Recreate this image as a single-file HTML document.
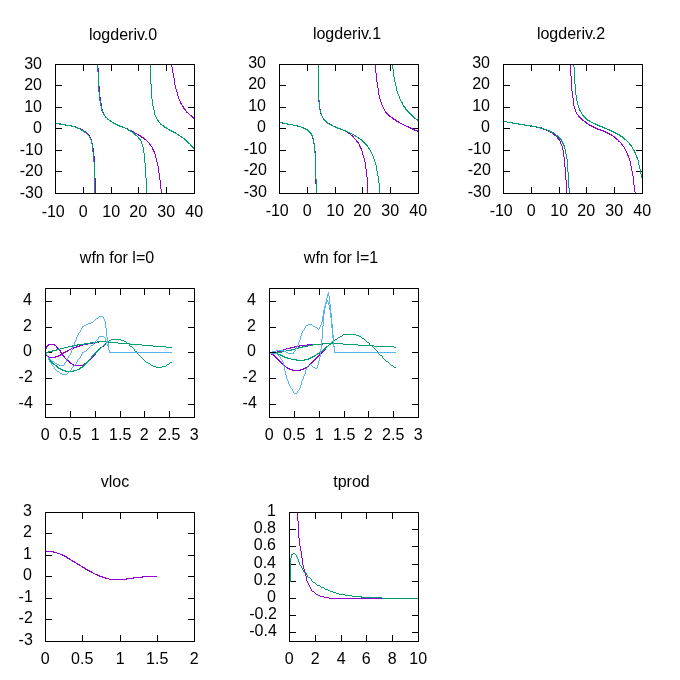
<!DOCTYPE html>
<html><head><meta charset="utf-8"><title>plot</title>
<style>html,body{margin:0;padding:0;background:#fff;overflow:hidden}svg{display:block;will-change:transform}text{font-family:"Liberation Sans",sans-serif;font-size:16px;fill:#000}.f{fill:none;stroke:#000;stroke-width:1;shape-rendering:crispEdges}.c{fill:none;stroke-width:1;shape-rendering:crispEdges;stroke-linejoin:miter}</style></head><body>
<svg width="680" height="680" viewBox="0 0 680 680">
<rect x="0" y="0" width="680" height="680" fill="#fff"/>
<g>
<text x="53.2" y="217.0" text-anchor="middle">-10</text>
<text x="83.2" y="217.0" text-anchor="middle">0</text>
<text x="111.2" y="217.0" text-anchor="middle">10</text>
<text x="138.2" y="217.0" text-anchor="middle">20</text>
<text x="166.2" y="217.0" text-anchor="middle">30</text>
<text x="194.2" y="217.0" text-anchor="middle">40</text>
<text x="42.8" y="197.6" text-anchor="end">-30</text>
<text x="42.8" y="175.6" text-anchor="end">-20</text>
<text x="42.8" y="154.6" text-anchor="end">-10</text>
<text x="42.0" y="132.6" text-anchor="end">0</text>
<text x="42.0" y="111.6" text-anchor="end">10</text>
<text x="42.0" y="89.6" text-anchor="end">20</text>
<text x="42.0" y="68.6" text-anchor="end">30</text>
<path class="f" d="M55.5 194 v-7 M55.5 64 v7 M83.5 194 v-7 M83.5 64 v7 M111.5 194 v-7 M111.5 64 v7 M138.5 194 v-7 M138.5 64 v7 M166.5 194 v-7 M166.5 64 v7 M194.5 194 v-7 M194.5 64 v7 M55 193.5 h7 M195 193.5 h-7 M55 171.5 h7 M195 171.5 h-7 M55 150.5 h7 M195 150.5 h-7 M55 128.5 h7 M195 128.5 h-7 M55 107.5 h7 M195 107.5 h-7 M55 85.5 h7 M195 85.5 h-7 M55 64.5 h7 M195 64.5 h-7"/>
<path class="c" stroke="#9400d3" d="M55.5 123v1M56.5 123v1M57.5 123v1M58.5 123v1M59.5 123v1M60.5 123v2M61.5 124v1M62.5 124v1M63.5 124v1M64.5 124v1M65.5 124v1M66.5 125v1M67.5 125v1M68.5 125v1M69.5 125v1M70.5 125v1M71.5 125v2M72.5 126v1M73.5 126v1M74.5 126v1M75.5 126v2M76.5 127v1M77.5 127v1M78.5 128v1M79.5 128v1M80.5 128v2M81.5 129v1M82.5 129v2M83.5 130v2M84.5 131v1M85.5 131v2M86.5 132v2M87.5 133v2M88.5 134v2M89.5 135v2M90.5 137v2M91.5 139v4M92.5 143v5M93.5 148v8M94.5 156v22M95.5 178v16"/>
<path class="c" stroke="#9400d3" d="M97.5 64v4M98.5 68v18M99.5 86v11M100.5 97v6M101.5 103v6M102.5 109v3M103.5 112v2M104.5 114v2M105.5 116v1M106.5 117v1M107.5 118v2M108.5 119v1M109.5 120v1M110.5 120v2M111.5 121v1M112.5 122v1M113.5 122v2M114.5 123v1M115.5 123v2M116.5 124v1M117.5 124v2M118.5 125v1M119.5 125v1M120.5 126v1M121.5 126v1M122.5 126v2M123.5 127v1M124.5 127v1M125.5 128v1M126.5 128v1M127.5 128v2M128.5 129v1M129.5 130v1M130.5 130v1M131.5 130v2M132.5 131v1M133.5 131v2M134.5 132v1M135.5 133v1M136.5 133v1M137.5 134v1M138.5 134v2M139.5 135v1M140.5 135v2M141.5 136v2M142.5 137v1M143.5 137v2M144.5 138v2M145.5 139v1M146.5 140v1M147.5 141v1M148.5 142v1M149.5 143v2M150.5 144v2M151.5 146v1M152.5 147v3M153.5 149v3M154.5 151v3M155.5 154v4M156.5 158v4M157.5 162v4M158.5 166v7M159.5 173v7M160.5 180v9M161.5 189v5"/>
<path class="c" stroke="#9400d3" d="M171.5 64v3M172.5 67v6M173.5 73v5M174.5 78v7M175.5 85v4M176.5 89v3M177.5 92v4M178.5 96v3M179.5 99v2M180.5 101v3M181.5 103v2M182.5 105v2M183.5 106v3M184.5 108v2M185.5 109v2M186.5 111v2M187.5 112v1M188.5 113v1M189.5 114v1M190.5 115v1M191.5 115v2M192.5 116v2M193.5 117v2M194.5 118v1"/>
<path class="c" stroke="#009e73" d="M55.5 123v1M56.5 123v1M57.5 123v1M58.5 123v1M59.5 123v2M60.5 124v1M61.5 124v1M62.5 124v1M63.5 124v1M64.5 124v1M65.5 124v2M66.5 125v1M67.5 125v1M68.5 125v1M69.5 125v1M70.5 125v1M71.5 125v2M72.5 126v1M73.5 126v1M74.5 126v1M75.5 127v1M76.5 127v1M77.5 127v2M78.5 128v1M79.5 128v1M80.5 129v1M81.5 129v2M82.5 130v1M83.5 130v2M84.5 131v2M85.5 132v1M86.5 133v1M87.5 134v1M88.5 135v1M89.5 136v2M90.5 138v2M91.5 140v4M92.5 144v8M93.5 152v10M94.5 162v32"/>
<path class="c" stroke="#009e73" d="M97.5 64v8M98.5 72v20M99.5 92v9M100.5 101v5M101.5 106v5M102.5 110v3M103.5 113v2M104.5 114v2M105.5 116v2M106.5 117v1M107.5 118v2M108.5 119v1M109.5 120v1M110.5 120v2M111.5 121v1M112.5 122v1M113.5 122v2M114.5 123v1M115.5 123v2M116.5 124v1M117.5 124v2M118.5 125v1M119.5 125v2M120.5 126v1M121.5 126v1M122.5 126v2M123.5 127v1M124.5 127v1M125.5 128v1M126.5 128v1M127.5 129v1M128.5 129v2M129.5 130v1M130.5 130v2M131.5 131v1M132.5 132v1M133.5 132v2M134.5 133v2M135.5 134v2M136.5 135v1M137.5 136v1M138.5 137v2M139.5 138v2M140.5 139v2M141.5 141v3M142.5 144v3M143.5 147v6M144.5 153v10M145.5 163v15M146.5 178v16"/>
<path class="c" stroke="#009e73" d="M150.5 64v20M151.5 84v15M152.5 99v7M153.5 106v4M154.5 110v5M155.5 115v2M156.5 117v2M157.5 119v2M158.5 120v2M159.5 122v1M160.5 123v2M161.5 124v1M162.5 125v1M163.5 125v2M164.5 126v2M165.5 127v1M166.5 127v2M167.5 128v1M168.5 129v1M169.5 129v2M170.5 130v1M171.5 130v2M172.5 131v1M173.5 131v2M174.5 132v1M175.5 132v2M176.5 133v1M177.5 134v1M178.5 134v2M179.5 135v1M180.5 136v1M181.5 136v2M182.5 137v1M183.5 138v1M184.5 138v2M185.5 139v2M186.5 140v2M187.5 141v2M188.5 142v2M189.5 143v1M190.5 144v2M191.5 145v2M192.5 146v2M193.5 147v2M194.5 149v1"/>
<rect class="f" x="55.5" y="64.5" width="139" height="129"/>
<text x="123.0" y="40.2" text-anchor="middle">logderiv.0</text>
</g>
<g>
<text x="277.2" y="216.0" text-anchor="middle">-10</text>
<text x="307.2" y="216.0" text-anchor="middle">0</text>
<text x="335.2" y="216.0" text-anchor="middle">10</text>
<text x="362.2" y="216.0" text-anchor="middle">20</text>
<text x="390.2" y="216.0" text-anchor="middle">30</text>
<text x="418.2" y="216.0" text-anchor="middle">40</text>
<text x="266.8" y="196.6" text-anchor="end">-30</text>
<text x="266.8" y="174.6" text-anchor="end">-20</text>
<text x="266.8" y="153.6" text-anchor="end">-10</text>
<text x="266.0" y="131.6" text-anchor="end">0</text>
<text x="266.0" y="110.6" text-anchor="end">10</text>
<text x="266.0" y="88.6" text-anchor="end">20</text>
<text x="266.0" y="67.6" text-anchor="end">30</text>
<path class="f" d="M279.5 194 v-7 M279.5 64 v7 M307.5 194 v-7 M307.5 64 v7 M335.5 194 v-7 M335.5 64 v7 M362.5 194 v-7 M362.5 64 v7 M390.5 194 v-7 M390.5 64 v7 M418.5 194 v-7 M418.5 64 v7 M279 193.5 h7 M419 193.5 h-7 M279 171.5 h7 M419 171.5 h-7 M279 150.5 h7 M419 150.5 h-7 M279 128.5 h7 M419 128.5 h-7 M279 107.5 h7 M419 107.5 h-7 M279 85.5 h7 M419 85.5 h-7 M279 64.5 h7 M419 64.5 h-7"/>
<path class="c" stroke="#9400d3" d="M279.5 122v1M280.5 122v1M281.5 122v1M282.5 122v2M283.5 123v1M284.5 123v1M285.5 123v1M286.5 123v1M287.5 123v2M288.5 124v1M289.5 124v1M290.5 124v1M291.5 124v1M292.5 124v1M293.5 125v1M294.5 125v1M295.5 125v1M296.5 125v1M297.5 125v2M298.5 126v1M299.5 126v1M300.5 126v1M301.5 127v1M302.5 127v1M303.5 127v2M304.5 128v1M305.5 128v2M306.5 129v1M307.5 129v2M308.5 130v2M309.5 131v2M310.5 132v2M311.5 133v2M312.5 135v4M313.5 139v5M314.5 144v7M315.5 151v33M316.5 184v10"/>
<path class="c" stroke="#9400d3" d="M318.5 64v38M319.5 102v7M320.5 109v5M321.5 114v2M322.5 116v2M323.5 118v2M324.5 119v2M325.5 120v2M326.5 121v2M327.5 122v2M328.5 123v1M329.5 123v2M330.5 124v1M331.5 125v1M332.5 125v1M333.5 126v1M334.5 126v1M335.5 126v2M336.5 127v1M337.5 127v2M338.5 128v1M339.5 128v1M340.5 128v2M341.5 129v1M342.5 129v1M343.5 130v1M344.5 130v1M345.5 131v1M346.5 131v1M347.5 131v2M348.5 132v2M349.5 133v1M350.5 134v1M351.5 135v1M352.5 135v2M353.5 136v2M354.5 138v1M355.5 139v1M356.5 140v2M357.5 141v2M358.5 142v2M359.5 144v3M360.5 146v3M361.5 148v3M362.5 151v4M363.5 155v3M364.5 158v4M365.5 162v7M366.5 169v8M367.5 177v17"/>
<path class="c" stroke="#9400d3" d="M375.5 64v9M376.5 73v9M377.5 82v6M378.5 88v7M379.5 95v4M380.5 99v3M381.5 102v3M382.5 105v2M383.5 107v2M384.5 109v2M385.5 111v2M386.5 112v2M387.5 113v2M388.5 114v2M389.5 115v2M390.5 116v1M391.5 117v1M392.5 117v2M393.5 118v2M394.5 119v1M395.5 119v2M396.5 120v2M397.5 121v1M398.5 121v2M399.5 122v1M400.5 123v1M401.5 123v1M402.5 124v1M403.5 124v1M404.5 125v1M405.5 125v1M406.5 126v1M407.5 126v1M408.5 126v2M409.5 127v1M410.5 127v2M411.5 128v1M412.5 128v2M413.5 129v1M414.5 129v2M415.5 130v1M416.5 130v1M417.5 130v2M418.5 131v1"/>
<path class="c" stroke="#009e73" d="M279.5 122v1M280.5 122v1M281.5 122v1M282.5 122v1M283.5 123v1M284.5 123v1M285.5 123v1M286.5 123v1M287.5 123v2M288.5 124v1M289.5 124v1M290.5 124v1M291.5 124v1M292.5 124v1M293.5 125v1M294.5 125v1M295.5 125v1M296.5 125v1M297.5 125v2M298.5 126v1M299.5 126v1M300.5 126v1M301.5 127v1M302.5 127v1M303.5 127v2M304.5 128v1M305.5 128v2M306.5 129v1M307.5 129v2M308.5 130v2M309.5 131v2M310.5 132v2M311.5 133v3M312.5 135v3M313.5 138v5M314.5 143v10M315.5 153v26M316.5 179v15"/>
<path class="c" stroke="#009e73" d="M318.5 64v36M319.5 100v10M320.5 110v3M321.5 113v3M322.5 116v2M323.5 118v2M324.5 119v2M325.5 120v2M326.5 121v2M327.5 122v2M328.5 123v1M329.5 124v1M330.5 124v1M331.5 124v2M332.5 125v1M333.5 126v1M334.5 126v1M335.5 126v2M336.5 127v1M337.5 127v2M338.5 128v1M339.5 128v1M340.5 128v2M341.5 129v1M342.5 129v1M343.5 130v1M344.5 130v1M345.5 130v2M346.5 131v1M347.5 131v1M348.5 132v1M349.5 132v1M350.5 133v1M351.5 133v1M352.5 134v1M353.5 134v1M354.5 135v1M355.5 135v2M356.5 136v1M357.5 137v1M358.5 137v2M359.5 138v1M360.5 139v1M361.5 139v2M362.5 140v2M363.5 141v2M364.5 142v2M365.5 143v2M366.5 144v2M367.5 145v2M368.5 147v2M369.5 148v2M370.5 150v2M371.5 152v2M372.5 154v2M373.5 156v3M374.5 159v3M375.5 162v3M376.5 165v6M377.5 171v5M378.5 176v7M379.5 183v11"/>
<path class="c" stroke="#009e73" d="M392.5 64v5M393.5 69v8M394.5 77v5M395.5 82v4M396.5 86v5M397.5 91v3M398.5 94v2M399.5 96v3M400.5 99v2M401.5 101v2M402.5 102v3M403.5 105v2M404.5 106v2M405.5 107v3M406.5 109v2M407.5 110v2M408.5 111v2M409.5 112v2M410.5 113v2M411.5 114v2M412.5 115v2M413.5 116v2M414.5 117v2M415.5 118v1M416.5 119v1M417.5 119v2M418.5 120v2"/>
<rect class="f" x="279.5" y="64.5" width="139" height="129"/>
<text x="347.0" y="39.2" text-anchor="middle">logderiv.1</text>
</g>
<g>
<text x="501.2" y="216.0" text-anchor="middle">-10</text>
<text x="531.2" y="216.0" text-anchor="middle">0</text>
<text x="559.2" y="216.0" text-anchor="middle">10</text>
<text x="586.2" y="216.0" text-anchor="middle">20</text>
<text x="614.2" y="216.0" text-anchor="middle">30</text>
<text x="642.2" y="216.0" text-anchor="middle">40</text>
<text x="490.8" y="196.6" text-anchor="end">-30</text>
<text x="490.8" y="174.6" text-anchor="end">-20</text>
<text x="490.8" y="153.6" text-anchor="end">-10</text>
<text x="490.0" y="131.6" text-anchor="end">0</text>
<text x="490.0" y="110.6" text-anchor="end">10</text>
<text x="490.0" y="88.6" text-anchor="end">20</text>
<text x="490.0" y="67.6" text-anchor="end">30</text>
<path class="f" d="M503.5 194 v-7 M503.5 64 v7 M531.5 194 v-7 M531.5 64 v7 M559.5 194 v-7 M559.5 64 v7 M586.5 194 v-7 M586.5 64 v7 M614.5 194 v-7 M614.5 64 v7 M642.5 194 v-7 M642.5 64 v7 M503 193.5 h7 M643 193.5 h-7 M503 171.5 h7 M643 171.5 h-7 M503 150.5 h7 M643 150.5 h-7 M503 128.5 h7 M643 128.5 h-7 M503 107.5 h7 M643 107.5 h-7 M503 85.5 h7 M643 85.5 h-7 M503 64.5 h7 M643 64.5 h-7"/>
<path class="c" stroke="#9400d3" d="M503.5 121v1M504.5 121v1M505.5 121v1M506.5 121v1M507.5 122v1M508.5 122v1M509.5 122v1M510.5 122v1M511.5 122v1M512.5 122v2M513.5 123v1M514.5 123v1M515.5 123v1M516.5 123v1M517.5 123v1M518.5 123v2M519.5 124v1M520.5 124v1M521.5 124v1M522.5 124v1M523.5 124v1M524.5 124v2M525.5 125v1M526.5 125v1M527.5 125v1M528.5 125v1M529.5 125v1M530.5 125v2M531.5 126v1M532.5 126v1M533.5 126v1M534.5 126v1M535.5 126v1M536.5 126v2M537.5 127v1M538.5 127v1M539.5 127v1M540.5 127v1M541.5 127v2M542.5 128v1M543.5 128v2M544.5 129v1M545.5 129v1M546.5 130v1M547.5 130v1M548.5 130v2M549.5 131v1M550.5 131v2M551.5 132v1M552.5 133v1M553.5 133v2M554.5 134v2M555.5 135v1M556.5 136v1M557.5 137v2M558.5 138v2M559.5 139v2M560.5 141v3M561.5 144v2M562.5 146v4M563.5 150v7M564.5 157v10M565.5 167v13M566.5 180v14"/>
<path class="c" stroke="#9400d3" d="M570.5 64v12M571.5 76v15M572.5 91v7M573.5 98v8M574.5 106v3M575.5 109v3M576.5 112v2M577.5 114v1M578.5 115v2M579.5 116v2M580.5 117v2M581.5 118v2M582.5 119v2M583.5 120v1M584.5 121v1M585.5 121v2M586.5 122v2M587.5 123v1M588.5 124v1M589.5 124v2M590.5 125v1M591.5 125v2M592.5 126v1M593.5 126v2M594.5 127v1M595.5 127v2M596.5 128v1M597.5 128v2M598.5 129v1M599.5 129v1M600.5 129v2M601.5 130v1M602.5 130v1M603.5 130v2M604.5 131v1M605.5 131v2M606.5 132v1M607.5 132v2M608.5 133v1M609.5 133v2M610.5 134v1M611.5 134v2M612.5 135v1M613.5 136v1M614.5 136v2M615.5 137v2M616.5 138v2M617.5 139v1M618.5 140v2M619.5 141v1M620.5 142v1M621.5 143v2M622.5 144v2M623.5 146v1M624.5 147v2M625.5 149v2M626.5 151v2M627.5 153v3M628.5 155v3M629.5 158v3M630.5 161v5M631.5 166v5M632.5 171v5M633.5 176v9M634.5 185v7M635.5 192v2"/>
<path class="c" stroke="#009e73" d="M503.5 121v1M504.5 121v1M505.5 121v1M506.5 121v1M507.5 122v1M508.5 122v1M509.5 122v1M510.5 122v1M511.5 122v1M512.5 122v2M513.5 123v1M514.5 123v1M515.5 123v1M516.5 123v1M517.5 123v1M518.5 123v2M519.5 124v1M520.5 124v1M521.5 124v1M522.5 124v1M523.5 124v1M524.5 124v2M525.5 125v1M526.5 125v1M527.5 125v1M528.5 125v1M529.5 125v1M530.5 125v1M531.5 125v2M532.5 126v1M533.5 126v1M534.5 126v1M535.5 126v1M536.5 126v1M537.5 127v1M538.5 127v1M539.5 127v1M540.5 127v2M541.5 128v1M542.5 128v1M543.5 128v1M544.5 129v1M545.5 129v1M546.5 129v1M547.5 130v1M548.5 130v1M549.5 130v2M550.5 131v1M551.5 131v2M552.5 132v1M553.5 132v2M554.5 133v1M555.5 134v1M556.5 135v1M557.5 135v2M558.5 136v2M559.5 137v2M560.5 138v2M561.5 139v3M562.5 141v3M563.5 143v3M564.5 145v4M565.5 149v5M566.5 154v5M567.5 159v13M568.5 172v16M569.5 188v6"/>
<path class="c" stroke="#009e73" d="M573.5 64v3M574.5 67v17M575.5 84v11M576.5 95v6M577.5 101v4M578.5 105v3M579.5 108v3M580.5 110v2M581.5 112v2M582.5 114v2M583.5 115v2M584.5 116v2M585.5 117v2M586.5 118v2M587.5 119v2M588.5 120v1M589.5 120v2M590.5 121v1M591.5 122v1M592.5 122v1M593.5 123v1M594.5 123v1M595.5 123v2M596.5 124v1M597.5 124v2M598.5 125v1M599.5 125v2M600.5 126v1M601.5 126v1M602.5 126v2M603.5 127v1M604.5 127v2M605.5 128v1M606.5 128v1M607.5 129v1M608.5 129v1M609.5 129v2M610.5 130v1M611.5 130v2M612.5 131v1M613.5 131v2M614.5 132v1M615.5 132v2M616.5 133v1M617.5 133v2M618.5 134v1M619.5 134v2M620.5 135v2M621.5 136v1M622.5 136v2M623.5 137v2M624.5 138v2M625.5 139v1M626.5 140v1M627.5 141v1M628.5 142v1M629.5 143v2M630.5 144v2M631.5 145v2M632.5 147v2M633.5 149v2M634.5 150v3M635.5 152v3M636.5 155v3M637.5 157v3M638.5 160v5M639.5 165v4M640.5 169v5M641.5 174v4"/>
<rect class="f" x="503.5" y="64.5" width="139" height="129"/>
<text x="571.0" y="39.2" text-anchor="middle">logderiv.2</text>
</g>
<g>
<text x="45.2" y="440.0" text-anchor="middle">0</text>
<text x="70.2" y="440.0" text-anchor="middle">0.5</text>
<text x="95.2" y="440.0" text-anchor="middle">1</text>
<text x="120.2" y="440.0" text-anchor="middle">1.5</text>
<text x="144.2" y="440.0" text-anchor="middle">2</text>
<text x="169.2" y="440.0" text-anchor="middle">2.5</text>
<text x="194.2" y="440.0" text-anchor="middle">3</text>
<text x="32.8" y="407.6" text-anchor="end">-4</text>
<text x="32.8" y="381.6" text-anchor="end">-2</text>
<text x="32.0" y="355.6" text-anchor="end">0</text>
<text x="32.0" y="330.6" text-anchor="end">2</text>
<text x="32.0" y="304.6" text-anchor="end">4</text>
<path class="f" d="M45.5 418 v-7 M45.5 288 v7 M70.5 418 v-7 M70.5 288 v7 M95.5 418 v-7 M95.5 288 v7 M120.5 418 v-7 M120.5 288 v7 M144.5 418 v-7 M144.5 288 v7 M169.5 418 v-7 M169.5 288 v7 M194.5 418 v-7 M194.5 288 v7 M45 404.5 h7 M195 404.5 h-7 M45 378.5 h7 M195 378.5 h-7 M45 352.5 h7 M195 352.5 h-7 M45 327.5 h7 M195 327.5 h-7 M45 301.5 h7 M195 301.5 h-7"/>
<path class="c" stroke="#9400d3" d="M106 342.5h1M105 343.5h2M48 344.5h7M104 344.5h2M47 345.5h2M54 345.5h2M103 345.5h2M46 346.5h2M56 346.5h1M102 346.5h2M46 347.5h1M56 347.5h2M100 347.5h2M46 348.5h1M57 348.5h2M99 348.5h2M45 349.5h1M58 349.5h2M98 349.5h2M45 350.5h1M59 350.5h2M97 350.5h2M45 351.5h1M60 351.5h1M96 351.5h2M60 352.5h2M95 352.5h2M61 353.5h1M95 353.5h1M62 354.5h1M94 354.5h2M62 355.5h2M93 355.5h2M63 356.5h2M92 356.5h2M64 357.5h1M91 357.5h2M65 358.5h1M90 358.5h2M66 359.5h1M89 359.5h2M67 360.5h2M88 360.5h2M68 361.5h2M87 361.5h2M69 362.5h2M86 362.5h2M70 363.5h2M84 363.5h3M72 364.5h2M83 364.5h2M73 365.5h11"/>
<path class="c" stroke="#9400d3" d="M98 341.5h9M94 342.5h5M87 343.5h8M83 344.5h5M79 345.5h4M76 346.5h4M73 347.5h4M71 348.5h3M69 349.5h2M67 350.5h2M65 351.5h3M45 352.5h1M63 352.5h3M45 353.5h2M62 353.5h2M46 354.5h1M60 354.5h3M46 355.5h2M58 355.5h3M47 356.5h2M55 356.5h4M48 357.5h8"/>
<path class="c" stroke="#009e73" d="M97 341.5h12M90 342.5h8M108 342.5h10M84 343.5h7M118 343.5h12M77 344.5h8M130 344.5h12M72 345.5h6M142 345.5h11M68 346.5h5M153 346.5h13M64 347.5h4M166 347.5h6M60 348.5h4M56 349.5h4M52 350.5h5M48 351.5h5M45 352.5h4"/>
<path class="c" stroke="#009e73" d="M111 339.5h10M109 340.5h2M121 340.5h3M107 341.5h2M124 341.5h2M106 342.5h2M126 342.5h1M105 343.5h2M127 343.5h2M104 344.5h2M129 344.5h1M103 345.5h2M129 345.5h1M102 346.5h1M130 346.5h2M100 347.5h2M132 347.5h1M99 348.5h2M133 348.5h1M98 349.5h2M134 349.5h1M97 350.5h2M134 350.5h1M96 351.5h2M135 351.5h2M45 352.5h1M95 352.5h2M137 352.5h1M45 353.5h2M94 353.5h2M137 353.5h1M46 354.5h1M93 354.5h2M138 354.5h1M47 355.5h1M92 355.5h2M139 355.5h1M47 356.5h1M91 356.5h2M140 356.5h1M48 357.5h1M91 357.5h1M141 357.5h1M48 358.5h2M90 358.5h1M142 358.5h1M49 359.5h1M89 359.5h1M143 359.5h1M50 360.5h1M88 360.5h2M144 360.5h1M50 361.5h2M87 361.5h2M145 361.5h1M51 362.5h2M86 362.5h2M146 362.5h2M170 362.5h2M52 363.5h2M85 363.5h2M148 363.5h2M169 363.5h1M53 364.5h2M84 364.5h2M150 364.5h1M167 364.5h2M55 365.5h2M83 365.5h2M151 365.5h2M166 365.5h1M56 366.5h2M82 366.5h2M153 366.5h3M162 366.5h4M57 367.5h2M80 367.5h3M156 367.5h6M58 368.5h3M79 368.5h2M60 369.5h3M77 369.5h3M62 370.5h4M73 370.5h4M65 371.5h9"/>
<path class="c" stroke="#56b4e9" d="M99 316.5h4M98 317.5h1M103 317.5h1M96 318.5h2M103 318.5h1M95 319.5h1M104 319.5h1M94 320.5h1M104 320.5h1M93 321.5h1M105 321.5h1M91 322.5h2M105 322.5h1M88 323.5h3M105 323.5h1M86 324.5h2M105 324.5h1M84 325.5h2M105 325.5h1M82 326.5h2M105 326.5h1M82 327.5h1M105 327.5h1M81 328.5h1M106 328.5h1M81 329.5h1M106 329.5h1M80 330.5h1M106 330.5h1M80 331.5h1M106 331.5h1M79 332.5h1M106 332.5h1M78 333.5h1M106 333.5h1M78 334.5h1M106 334.5h1M77 335.5h1M106 335.5h1M77 336.5h1M106 336.5h1M76 337.5h1M107 337.5h1M76 338.5h1M107 338.5h1M76 339.5h1M107 339.5h1M75 340.5h1M107 340.5h1M75 341.5h1M107 341.5h1M74 342.5h1M107 342.5h1M74 343.5h1M108 343.5h1M74 344.5h1M108 344.5h1M73 345.5h1M108 345.5h1M73 346.5h1M108 346.5h1M72 347.5h1M108 347.5h1M72 348.5h1M108 348.5h1M72 349.5h1M108 349.5h1M71 350.5h1M109 350.5h1M71 351.5h1M109 351.5h1M45 352.5h1M71 352.5h1M109 352.5h63M46 353.5h1M70 353.5h1M46 354.5h1M70 354.5h1M47 355.5h1M69 355.5h1M47 356.5h1M68 356.5h1M48 357.5h1M68 357.5h1M49 358.5h1M67 358.5h1M50 359.5h1M67 359.5h1M51 360.5h1M66 360.5h1M52 361.5h2M66 361.5h1M54 362.5h1M65 362.5h1M55 363.5h2M64 363.5h1M57 364.5h2M64 364.5h1M59 365.5h5"/>
<path class="c" stroke="#56b4e9" d="M45.5 352v1M46.5 353v2M47.5 355v2M48.5 357v3M49.5 360v2M50.5 362v1M51.5 363v2M52.5 365v1M53.5 366v1M54.5 367v2M55.5 369v1M56.5 370v1M57.5 371v1M58.5 371v1M59.5 372v1M60.5 373v1M61.5 373v1M62.5 374v1M63.5 374v1M64.5 374v1M65.5 374v1M66.5 374v1M67.5 373v1M68.5 372v1M69.5 371v1M70.5 370v1M71.5 368v2M72.5 367v1M73.5 366v1M74.5 365v1M75.5 364v1M76.5 362v2M77.5 360v2M78.5 359v1M79.5 358v1M80.5 356v2M81.5 354v2M82.5 352v2M83.5 352v1M84.5 351v1M85.5 351v1M86.5 350v1M87.5 349v1M88.5 348v1M89.5 347v1M90.5 346v1M91.5 345v1M92.5 345v1M93.5 343v2M94.5 342v1M95.5 341v1M96.5 340v1M97.5 339v1M98.5 337v2M99.5 336v1M100.5 336v1M101.5 336v1M102.5 336v1M103.5 336v1M104.5 337v1M105.5 338v3M106.5 341v3M107.5 344v2M108.5 346v4M109.5 350v3"/>
<rect class="f" x="45.5" y="288.5" width="149" height="129"/>
<text x="117.0" y="263.2" text-anchor="middle">wfn for l=0</text>
</g>
<g>
<text x="269.2" y="440.0" text-anchor="middle">0</text>
<text x="294.2" y="440.0" text-anchor="middle">0.5</text>
<text x="319.2" y="440.0" text-anchor="middle">1</text>
<text x="344.2" y="440.0" text-anchor="middle">1.5</text>
<text x="368.2" y="440.0" text-anchor="middle">2</text>
<text x="393.2" y="440.0" text-anchor="middle">2.5</text>
<text x="418.2" y="440.0" text-anchor="middle">3</text>
<text x="256.8" y="407.6" text-anchor="end">-4</text>
<text x="256.8" y="381.6" text-anchor="end">-2</text>
<text x="256.0" y="355.6" text-anchor="end">0</text>
<text x="256.0" y="330.6" text-anchor="end">2</text>
<text x="256.0" y="304.6" text-anchor="end">4</text>
<path class="f" d="M269.5 418 v-7 M269.5 288 v7 M294.5 418 v-7 M294.5 288 v7 M319.5 418 v-7 M319.5 288 v7 M344.5 418 v-7 M344.5 288 v7 M368.5 418 v-7 M368.5 288 v7 M393.5 418 v-7 M393.5 288 v7 M418.5 418 v-7 M418.5 288 v7 M269 404.5 h7 M419 404.5 h-7 M269 378.5 h7 M419 378.5 h-7 M269 352.5 h7 M419 352.5 h-7 M269 327.5 h7 M419 327.5 h-7 M269 301.5 h7 M419 301.5 h-7"/>
<path class="c" stroke="#9400d3" d="M322 343.5h9M307 344.5h16M299 345.5h8M294 346.5h6M290 347.5h5M286 348.5h5M283 349.5h3M280 350.5h3M277 351.5h4M273 352.5h5M269 353.5h5"/>
<path class="c" stroke="#9400d3" d="M333 340.5h1M332 341.5h2M331 342.5h2M330 343.5h2M329 344.5h2M328 345.5h1M327 346.5h1M326 347.5h1M325 348.5h1M324 349.5h2M323 350.5h2M322 351.5h2M321 352.5h2M269 353.5h3M320 353.5h2M271 354.5h3M319 354.5h2M273 355.5h2M318 355.5h2M274 356.5h2M317 356.5h2M275 357.5h2M316 357.5h2M276 358.5h2M315 358.5h2M277 359.5h2M314 359.5h2M278 360.5h2M313 360.5h2M279 361.5h2M312 361.5h2M280 362.5h2M311 362.5h2M281 363.5h2M310 363.5h2M282 364.5h2M309 364.5h2M283 365.5h2M308 365.5h2M284 366.5h2M307 366.5h2M286 367.5h2M305 367.5h2M287 368.5h3M303 368.5h3M289 369.5h4M300 369.5h4M292 370.5h9"/>
<path class="c" stroke="#009e73" d="M321 343.5h22M312 344.5h9M343 344.5h15M307 345.5h6M358 345.5h16M302 346.5h6M374 346.5h20M298 347.5h5M394 347.5h2M295 348.5h4M291 349.5h5M286 350.5h6M281 351.5h5M272 352.5h10M269 353.5h4"/>
<path class="c" stroke="#009e73" d="M343 334.5h13M342 335.5h1M356 335.5h3M340 336.5h2M359 336.5h2M338 337.5h2M361 337.5h1M337 338.5h1M362 338.5h2M335 339.5h2M364 339.5h1M333 340.5h2M365 340.5h1M332 341.5h2M366 341.5h1M331 342.5h2M367 342.5h2M330 343.5h2M369 343.5h1M329 344.5h2M369 344.5h1M328 345.5h1M370 345.5h2M326 346.5h2M372 346.5h1M325 347.5h2M373 347.5h1M324 348.5h2M374 348.5h1M323 349.5h2M375 349.5h1M322 350.5h2M376 350.5h1M320 351.5h2M377 351.5h1M319 352.5h2M377 352.5h1M269 353.5h9M317 353.5h3M378 353.5h1M277 354.5h4M316 354.5h2M379 354.5h1M280 355.5h3M314 355.5h2M380 355.5h2M282 356.5h3M312 356.5h3M382 356.5h1M284 357.5h4M310 357.5h3M382 357.5h1M287 358.5h4M308 358.5h3M383 358.5h1M291 359.5h6M304 359.5h5M384 359.5h1M296 360.5h9M385 360.5h1M386 361.5h2M388 362.5h1M389 363.5h1M390 364.5h1M391 365.5h2M393 366.5h1M394 367.5h2"/>
<path class="c" stroke="#56b4e9" d="M269.5 353v1M270.5 353v1M271.5 352v1M272.5 351v1M273.5 351v1M274.5 351v1M275.5 351v1M276.5 350v1M277.5 350v1M278.5 350v1M279.5 350v1M280.5 350v1M281.5 350v1M282.5 350v1M283.5 350v1M284.5 351v1M285.5 351v1M286.5 352v1M287.5 352v1M288.5 353v1M289.5 353v1M290.5 353v1M291.5 353v1M292.5 353v1M293.5 352v2M294.5 351v1M295.5 349v2M296.5 347v2M297.5 345v2M298.5 342v3M299.5 340v2M300.5 336v4M301.5 333v3M302.5 331v2M303.5 330v1M304.5 328v2M305.5 326v2M306.5 325v1M307.5 325v1M308.5 324v1M309.5 324v1M310.5 324v1M311.5 324v1M312.5 325v1M313.5 326v1M314.5 326v1M315.5 327v1M316.5 327v1M317.5 328v1M318.5 329v1M319.5 327v2M320.5 325v2M321.5 322v3M322.5 316v6M323.5 310v6M324.5 306v4M325.5 302v4M326.5 298v4M327.5 294v4M328.5 292v4M329.5 296v8M330.5 304v9M331.5 313v11M332.5 324v11M333.5 335v11M334.5 346v7M335.5 352v1M336.5 352v1M337.5 352v1M338.5 352v1M339.5 352v1M340.5 352v1M341.5 352v1M342.5 352v1M343.5 352v1M344.5 352v1M345.5 352v1M346.5 352v1M347.5 352v1M348.5 352v1M349.5 352v1M350.5 352v1M351.5 352v1M352.5 352v1M353.5 352v1M354.5 352v1M355.5 352v1M356.5 352v1M357.5 352v1M358.5 352v1M359.5 352v1M360.5 352v1M361.5 352v1M362.5 352v1M363.5 352v1M364.5 352v1M365.5 352v1M366.5 352v1M367.5 352v1M368.5 352v1M369.5 352v1M370.5 352v1M371.5 352v1M372.5 352v1M373.5 352v1M374.5 352v1M375.5 352v1M376.5 352v1M377.5 352v1M378.5 352v1M379.5 352v1M380.5 352v1M381.5 352v1M382.5 352v1M383.5 352v1M384.5 352v1M385.5 352v1M386.5 352v1M387.5 352v1M388.5 352v1M389.5 352v1M390.5 352v1M391.5 352v1M392.5 352v1M393.5 352v1M394.5 352v1M395.5 352v1"/>
<path class="c" stroke="#56b4e9" d="M269.5 353v1M270.5 353v1M271.5 353v1M272.5 353v1M273.5 353v1M274.5 353v1M275.5 353v1M276.5 353v1M277.5 354v1M278.5 355v1M279.5 356v1M280.5 357v2M281.5 359v1M282.5 360v2M283.5 362v4M284.5 366v5M285.5 371v4M286.5 375v4M287.5 379v2M288.5 381v3M289.5 384v2M290.5 386v2M291.5 388v1M292.5 389v2M293.5 391v2M294.5 393v1M295.5 393v1M296.5 393v1M297.5 391v2M298.5 390v1M299.5 388v2M300.5 385v3M301.5 381v4M302.5 379v2M303.5 376v3M304.5 374v2M305.5 370v4M306.5 368v2M307.5 366v2M308.5 365v1M309.5 365v1M310.5 364v1M311.5 365v1M312.5 366v1M313.5 367v1M314.5 367v1M315.5 368v1M316.5 368v1M317.5 365v3M318.5 361v4M319.5 357v4M320.5 349v8M321.5 339v10M322.5 326v13M323.5 314v12M324.5 308v6M325.5 304v4M326.5 302v2M327.5 300v2M328.5 302v3M329.5 305v5M330.5 310v8M331.5 318v10M332.5 328v10M333.5 338v9M334.5 347v6"/>
<path class="f" d="M269 352.5h7"/>
<rect class="f" x="269.5" y="288.5" width="149" height="129"/>
<text x="341.0" y="263.2" text-anchor="middle">wfn for l=1</text>
</g>
<g>
<text x="45.2" y="664.0" text-anchor="middle">0</text>
<text x="82.2" y="664.0" text-anchor="middle">0.5</text>
<text x="120.2" y="664.0" text-anchor="middle">1</text>
<text x="157.2" y="664.0" text-anchor="middle">1.5</text>
<text x="194.2" y="664.0" text-anchor="middle">2</text>
<text x="32.8" y="644.6" text-anchor="end">-3</text>
<text x="32.8" y="622.6" text-anchor="end">-2</text>
<text x="32.8" y="601.6" text-anchor="end">-1</text>
<text x="32.0" y="579.6" text-anchor="end">0</text>
<text x="32.0" y="558.6" text-anchor="end">1</text>
<text x="32.0" y="536.6" text-anchor="end">2</text>
<text x="32.0" y="515.6" text-anchor="end">3</text>
<path class="f" d="M45.5 642 v-7 M45.5 512 v7 M82.5 642 v-7 M82.5 512 v7 M120.5 642 v-7 M120.5 512 v7 M157.5 642 v-7 M157.5 512 v7 M194.5 642 v-7 M194.5 512 v7 M45 641.5 h7 M195 641.5 h-7 M45 619.5 h7 M195 619.5 h-7 M45 598.5 h7 M195 598.5 h-7 M45 576.5 h7 M195 576.5 h-7 M45 555.5 h7 M195 555.5 h-7 M45 533.5 h7 M195 533.5 h-7 M45 512.5 h7 M195 512.5 h-7"/>
<path class="c" stroke="#9400d3" d="M45 551.5h9M53 552.5h4M57 553.5h3M60 554.5h3M62 555.5h3M64 556.5h3M66 557.5h2M67 558.5h3M69 559.5h2M71 560.5h2M72 561.5h3M74 562.5h2M76 563.5h2M77 564.5h3M79 565.5h2M81 566.5h2M82 567.5h3M84 568.5h2M85 569.5h3M87 570.5h3M89 571.5h3M91 572.5h2M93 573.5h2M95 574.5h3M97 575.5h3M99 576.5h4M142 576.5h15M102 577.5h4M133 577.5h10M105 578.5h4M126 578.5h8M109 579.5h18"/>
<rect class="f" x="45.5" y="512.5" width="149" height="129"/>
<text x="115.0" y="487.2" text-anchor="middle">vloc</text>
</g>
<g>
<text x="289.2" y="664.0" text-anchor="middle">0</text>
<text x="315.2" y="664.0" text-anchor="middle">2</text>
<text x="341.2" y="664.0" text-anchor="middle">4</text>
<text x="366.2" y="664.0" text-anchor="middle">6</text>
<text x="392.2" y="664.0" text-anchor="middle">8</text>
<text x="418.2" y="664.0" text-anchor="middle">10</text>
<text x="276.8" y="635.6" text-anchor="end">-0.4</text>
<text x="276.8" y="618.6" text-anchor="end">-0.2</text>
<text x="276.0" y="601.6" text-anchor="end">0</text>
<text x="276.0" y="584.6" text-anchor="end">0.2</text>
<text x="276.0" y="567.6" text-anchor="end">0.4</text>
<text x="276.0" y="549.6" text-anchor="end">0.6</text>
<text x="276.0" y="532.6" text-anchor="end">0.8</text>
<text x="276.0" y="515.6" text-anchor="end">1</text>
<path class="f" d="M289.5 642 v-7 M289.5 512 v7 M315.5 642 v-7 M315.5 512 v7 M341.5 642 v-7 M341.5 512 v7 M366.5 642 v-7 M366.5 512 v7 M392.5 642 v-7 M392.5 512 v7 M418.5 642 v-7 M418.5 512 v7 M289 632.5 h7 M419 632.5 h-7 M289 615.5 h7 M419 615.5 h-7 M289 598.5 h7 M419 598.5 h-7 M289 581.5 h7 M419 581.5 h-7 M289 564.5 h7 M419 564.5 h-7 M289 546.5 h7 M419 546.5 h-7 M289 529.5 h7 M419 529.5 h-7 M289 512.5 h7 M419 512.5 h-7"/>
<path class="c" stroke="#9400d3" d="M297.5 512v9M298.5 521v17M299.5 538v8M300.5 546v5M301.5 551v7M302.5 558v7M303.5 565v4M304.5 569v3M305.5 572v4M306.5 576v5M307.5 581v2M308.5 583v2M309.5 585v2M310.5 587v2M311.5 589v2M312.5 591v1M313.5 591v1M314.5 592v1M315.5 593v1M316.5 594v1M317.5 594v1M318.5 595v1M319.5 595v1M320.5 596v1M321.5 596v1M322.5 596v1M323.5 596v1M324.5 597v1M325.5 597v1M326.5 597v1M327.5 597v1M328.5 597v1M329.5 598v1M330.5 598v1M331.5 598v1M332.5 598v1M333.5 598v1M334.5 598v1M335.5 598v1M336.5 598v1M337.5 598v1M338.5 598v1M339.5 598v1M340.5 598v1M341.5 598v1M342.5 598v1M343.5 598v1M344.5 598v1M345.5 598v1M346.5 598v1M347.5 598v1M348.5 598v1M349.5 598v1M350.5 598v1M351.5 598v1M352.5 598v1M353.5 598v1M354.5 598v1M355.5 598v1M356.5 598v1M357.5 598v1M358.5 598v1M359.5 598v1M360.5 598v1M361.5 598v1M362.5 598v1M363.5 598v1M364.5 598v1M365.5 598v1M366.5 598v1M367.5 598v1M368.5 598v1M369.5 598v1M370.5 598v1M371.5 598v1M372.5 598v1M373.5 598v1M374.5 598v1M375.5 598v1M376.5 598v1M377.5 598v1M378.5 598v1M379.5 598v1M380.5 598v1M381.5 598v1M382.5 598v1"/>
<path class="c" stroke="#009e73" d="M290.5 562v20"/>
<path class="c" stroke="#009e73" d="M293 553.5h2M291 554.5h2M295 554.5h1M291 555.5h1M296 555.5h1M291 556.5h1M296 556.5h1M291 557.5h1M297 557.5h1M290 558.5h1M297 558.5h1M290 559.5h1M298 559.5h1M290 560.5h1M298 560.5h1M290 561.5h1M298 561.5h1M290 562.5h1M299 562.5h1M299 563.5h1M299 564.5h1M300 565.5h1M301 566.5h1M301 567.5h1M302 568.5h1M302 569.5h1M303 570.5h1M303 571.5h1M304 572.5h2M306 573.5h1M306 574.5h1M307 575.5h1M307 576.5h1M308 577.5h2M310 578.5h1M311 579.5h1M311 580.5h1M312 581.5h1M313 582.5h2M315 583.5h1M316 584.5h1M317 585.5h3M320 586.5h1M321 587.5h3M324 588.5h1M325 589.5h3M328 590.5h2M330 591.5h3M333 592.5h3M336 593.5h3M339 594.5h6M345 595.5h7M352 596.5h10"/>
<path class="c" stroke="#009e73" d="M361 597.5h21M382 598.5h37"/>
<rect class="f" x="289.5" y="512.5" width="129" height="129"/>
<text x="351.5" y="487.2" text-anchor="middle">tprod</text>
</g>
</svg></body></html>
